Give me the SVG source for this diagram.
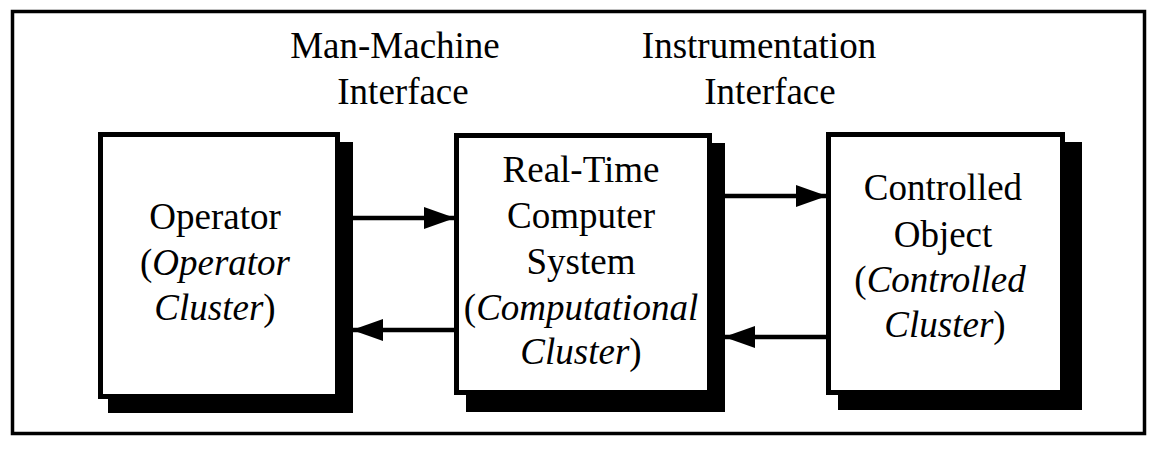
<svg xmlns="http://www.w3.org/2000/svg" width="1151" height="449" viewBox="0 0 1151 449">
<style>
text{font-family:"Liberation Serif","Times New Roman",serif;font-size:37px;fill:#000;text-anchor:middle}
.it{font-style:italic}
.box{fill:#fff;stroke:#000;stroke-width:5}
.shadow{fill:#000}
.conn{stroke:#000;stroke-width:4.5;fill:none;marker-end:url(#ah)}
</style>
<defs>
<marker id="ah" markerUnits="userSpaceOnUse" markerWidth="32" markerHeight="22" refX="30" refY="11" orient="auto">
<path d="M0,0 L31,11 L0,22 z" fill="#000"/>
</marker>
</defs>
<rect x="12.5" y="11.5" width="1132" height="422" fill="#fff" stroke="#000" stroke-width="3.5"/>
<g id="label-mmi">
<text x="395" y="58">Man-Machine</text>
<text x="403" y="104">Interface</text>
</g>
<g id="label-ii">
<text x="759" y="58">Instrumentation</text>
<text x="770" y="104">Interface</text>
</g>
<g id="operator">
<rect class="shadow" x="108" y="142" width="245" height="271"/>
<rect class="box" x="100.5" y="134.5" width="237" height="262"/>
<text x="215" y="229">Operator</text>
<text x="215" y="275">(<tspan class="it">Operator</tspan></text>
<text x="215" y="320"><tspan class="it">Cluster</tspan>)</text>
</g>
<g id="computer">
<rect class="shadow" x="466" y="143" width="259" height="269"/>
<rect class="box" x="456.5" y="135.5" width="253" height="257"/>
<text x="581" y="182">Real-Time</text>
<text x="581" y="228">Computer</text>
<text x="581" y="274">System</text>
<text x="581" y="320">(<tspan class="it">Computational</tspan></text>
<text x="581" y="364"><tspan class="it">Cluster</tspan>)</text>
</g>
<g id="controlled">
<rect class="shadow" x="838" y="142" width="244" height="268"/>
<rect class="box" x="828.5" y="134.5" width="234" height="258"/>
<text x="943" y="200">Controlled</text>
<text x="943" y="247">Object</text>
<text x="940" y="292">(<tspan class="it">Controlled</tspan></text>
<text x="945" y="337"><tspan class="it">Cluster</tspan>)</text>
</g>
<g id="connectors">
<line class="conn" x1="353" y1="218" x2="454" y2="218"/>
<line class="conn" x1="454" y1="330" x2="353" y2="330"/>
<line class="conn" x1="725" y1="196" x2="826" y2="196"/>
<line class="conn" x1="826" y1="337" x2="725" y2="337"/>
</g>
</svg>
